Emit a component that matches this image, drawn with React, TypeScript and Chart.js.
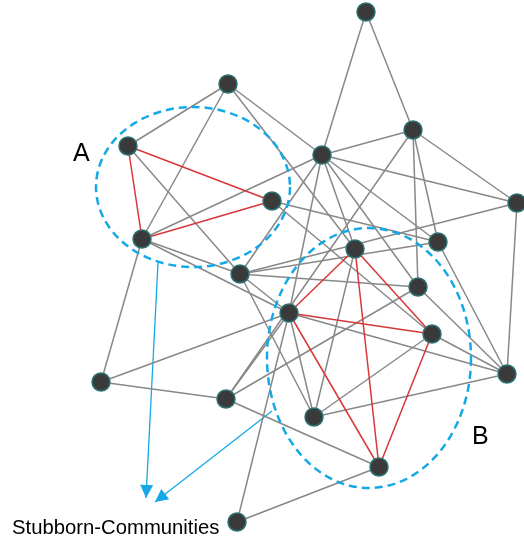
import React, { useEffect, useRef } from "react";
import { Chart, registerables } from "chart.js";

Chart.register(...registerables);

// Node positions (graph layout coordinates)
const nodeX = [366, 228, 413, 128, 322, 272, 517, 142, 438, 355, 240, 418, 289, 432, 507, 101, 226, 314, 379, 237];
const nodeY = [12, 84, 130, 146, 155, 201, 203, 239, 242, 249, 274, 287, 313, 334, 374, 382, 399, 417, 467, 522];

// Edges (1-based node indices)
const grayEdges: [number, number][] = [
  [1, 3], [1, 5], [3, 5], [3, 7], [3, 9], [3, 12], [3, 17],
  [2, 4], [2, 8], [2, 5], [2, 10],
  [4, 11],
  [5, 7], [5, 8], [5, 11], [5, 13], [5, 10], [5, 12], [5, 9],
  [6, 9], [6, 14],
  [7, 11], [7, 15],
  [8, 11], [8, 13], [8, 16],
  [9, 11], [9, 15],
  [11, 12], [11, 13], [11, 18],
  [12, 15], [12, 17],
  [13, 15], [13, 16], [13, 17], [13, 20], [13, 18],
  [14, 15], [14, 18],
  [15, 18], [16, 17],
  [17, 19], [19, 20], [10, 18],
];
const redEdges: [number, number][] = [
  [4, 6], [4, 8], [6, 8],
  [10, 13], [10, 14], [10, 19], [13, 14], [13, 19], [14, 19],
];

// Community outlines: centre x, centre y, radius x, radius y
const communityNames = ["A", "B"];
const ellipseCX = [193, 369];
const ellipseCY = [187, 358];
const ellipseRX = [97, 102];
const ellipseRY = [80, 130];
const labelX = [73, 472];
const labelY = [161, 444];

// Arrows toward the caption
const arrowStartX = [158, 272];
const arrowStartY = [263, 411];
const arrowEndX = [146, 155];
const arrowEndY = [498, 502];

const caption = "Stubborn-Communities";

const GRAY = "#888888";
const RED = "#d9363a";
const BLUE = "#14a9e6";

export default function App() {
  const ref = useRef<HTMLCanvasElement | null>(null);

  useEffect(() => {
    if (!ref.current) return;

    const edgeDataset = (e: [number, number], color: string) => ({
      type: "line" as const,
      data: [
        { x: nodeX[e[0] - 1], y: nodeY[e[0] - 1] },
        { x: nodeX[e[1] - 1], y: nodeY[e[1] - 1] },
      ],
      borderColor: color,
      borderWidth: 1.5,
      pointRadius: 0,
      fill: false,
      tension: 0,
      clip: false,
      order: color === RED ? 2 : 3,
    });

    const datasets: any[] = [];
    grayEdges.forEach((e) => datasets.push(edgeDataset(e, GRAY)));
    redEdges.forEach((e) => datasets.push(edgeDataset(e, RED)));
    arrowStartX.forEach((_, i) => {
      datasets.push({
        type: "line",
        data: [
          { x: arrowStartX[i], y: arrowStartY[i] },
          { x: arrowEndX[i], y: arrowEndY[i] },
        ],
        borderColor: BLUE,
        borderWidth: 1.3,
        pointRadius: 0,
        fill: false,
        clip: false,
        order: 4,
      });
    });
    datasets.push({
      type: "scatter",
      data: nodeX.map((x, i) => ({ x, y: nodeY[i] })),
      pointRadius: 9,
      pointHoverRadius: 9,
      backgroundColor: "#3a3a3a",
      borderColor: "#2b7373",
      borderWidth: 1.5,
      clip: false,
      order: 0,
    });

    const overlay = {
      id: "overlay",
      afterDatasetsDraw(chart: any) {
        const ctx = chart.ctx as CanvasRenderingContext2D;
        const xs = chart.scales.x;
        const ys = chart.scales.y;
        ctx.save();
        // dashed community ellipses
        ctx.strokeStyle = BLUE;
        ctx.lineWidth = 2.5;
        ctx.setLineDash([8, 5]);
        communityNames.forEach((_, i) => {
          const cx = xs.getPixelForValue(ellipseCX[i]);
          const cy = ys.getPixelForValue(ellipseCY[i]);
          const rx = Math.abs(xs.getPixelForValue(ellipseCX[i] + ellipseRX[i]) - cx);
          const ry = Math.abs(ys.getPixelForValue(ellipseCY[i] + ellipseRY[i]) - cy);
          ctx.beginPath();
          ctx.ellipse(cx, cy, rx, ry, 0, 0, Math.PI * 2);
          ctx.stroke();
        });
        ctx.setLineDash([]);
        // arrow heads
        ctx.fillStyle = BLUE;
        arrowStartX.forEach((_, i) => {
          const x0 = xs.getPixelForValue(arrowStartX[i]);
          const y0 = ys.getPixelForValue(arrowStartY[i]);
          const x1 = xs.getPixelForValue(arrowEndX[i]);
          const y1 = ys.getPixelForValue(arrowEndY[i]);
          const a = Math.atan2(y1 - y0, x1 - x0);
          const len = 13;
          const hw = 6.5;
          const bx = x1 - len * Math.cos(a);
          const by = y1 - len * Math.sin(a);
          ctx.beginPath();
          ctx.moveTo(x1, y1);
          ctx.lineTo(bx + hw * Math.sin(a), by - hw * Math.cos(a));
          ctx.lineTo(bx - hw * Math.sin(a), by + hw * Math.cos(a));
          ctx.closePath();
          ctx.fill();
        });
        // labels
        ctx.fillStyle = "#000";
        ctx.textBaseline = "alphabetic";
        ctx.textAlign = "left";
        ctx.font = '25px "Liberation Sans", Arial, sans-serif';
        communityNames.forEach((n, i) => {
          ctx.fillText(n, xs.getPixelForValue(labelX[i]), ys.getPixelForValue(labelY[i]));
        });
        ctx.font = '20.3px "Liberation Sans", Arial, sans-serif';
        ctx.fillText(caption, xs.getPixelForValue(12), ys.getPixelForValue(534));
        ctx.restore();
      },
    };

    const chart = new Chart(ref.current, {
      type: "scatter",
      data: { datasets },
      options: {
        animation: false,
        responsive: false,
        events: [],
        layout: { padding: 0, autoPadding: false },
        plugins: { legend: { display: false }, tooltip: { enabled: false } },
        scales: {
          x: { type: "linear", min: 0, max: 524, display: false },
          y: { type: "linear", min: 0, max: 540, reverse: true, display: false },
        },
      },
      plugins: [overlay],
    } as any);

    return () => chart.destroy();
  }, []);

  return (
    <div style={{ position: "absolute", left: 0, top: 0, width: 524, height: 540, background: "#fff" }}>
      <canvas ref={ref} width={524} height={540} style={{ width: 524, height: 540 }} />
    </div>
  );
}
